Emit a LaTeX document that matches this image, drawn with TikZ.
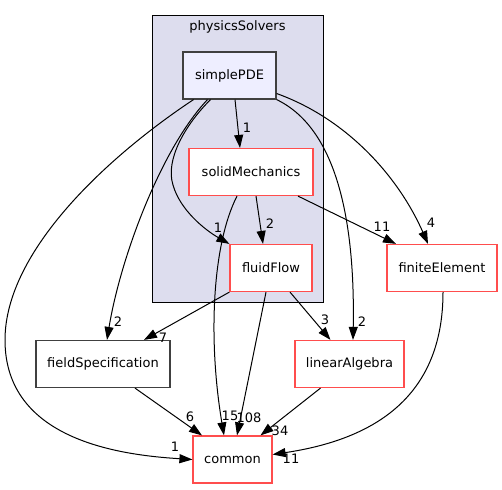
\documentclass[tikz,border=0pt]{standalone}
\usepackage{fontspec}
\setmainfont{DejaVu Sans}
\usetikzlibrary{arrows.meta}
\definecolor{dirred}{RGB}{255,77,77}
\definecolor{dirgray}{RGB}{64,64,64}
\definecolor{clusterfill}{RGB}{221,221,238}
\definecolor{pdefill}{RGB}{238,238,255}

\tikzset{
	dir/.style={draw=dirred, line width=1.2pt, fill=white, minimum height=47pt, inner sep=0pt, font=\fontsize{13}{15}\selectfont},
	dep/.style={-{Triangle[length=13pt,width=9pt]}, line width=1pt, black},
	lbl/.style={inner sep=0pt, font=\fontsize{13}{15}\selectfont}
}

\begin{document}
\begin{tikzpicture}[x=1pt,y=-1pt]
	\useasboundingbox (0,0) rectangle (502,489);
	
	\draw[fill=clusterfill, draw=black, line width=1pt] (152.5,16) rectangle (323,302.5);
	\node[font=\fontsize{13}{15}\selectfont] (physics) at (237.5,27) {physicsSolvers};
	
	\node[dir, draw=dirgray, fill=pdefill, minimum width=93pt] (simple) at (229.5,75.5) {simplePDE};
	\node[dir, minimum width=124pt] (solid) at (251,172) {solidMechanics};
	\node[dir, minimum width=82pt] (fluid) at (271,268) {fluidFlow};
	\node[dir, minimum width=110pt] (fem) at (442,268) {finiteElement};
	\node[dir, draw=dirgray, minimum width=134pt] (field) at (103,364) {fieldSpecification};
	\node[dir, minimum width=109pt] (linalg) at (349.5,364) {linearAlgebra};
	\node[dir, minimum width=79pt] (common) at (232.5,459.5) {common};
	
	
	\draw[dep] ([xshift=5.5pt]simple.south) -- ([xshift=-11pt]solid.north) node[lbl] at (247,128) {1};
	\draw[dep] ([xshift=-19pt]simple.south) .. controls (185,125) and (165,160) .. (173,185) .. controls (180,210) and (205,230) .. (fluid.north west) node[lbl] at (218,228) {1};
	\draw[dep] ([xshift=-22pt]simple.south) .. controls (160,150) and (120,260) .. ([xshift=4pt]field.north) node[lbl] at (118,322) {2};
	\draw[dep] ([xshift=-36pt]simple.south) .. controls (110,155) and (5,250) .. (5,340) .. controls (5,440) and (120,455) .. (common.west) node[lbl] at (175,447) {1};
	\draw[dep] (simple.south east) .. controls (340,130) and (355,230) .. ([xshift=3.5pt]linalg.north) node[lbl] at (362,322) {2};
	\draw[dep] ([yshift=-18pt]simple.east) .. controls (350,120) and (400,180) .. ([xshift=-14pt]fem.north) node[lbl] at (431,223) {4};
	
	\draw[dep] ([xshift=5pt]solid.south) -- ([xshift=-8pt]fluid.north) node[lbl] at (270,224) {2};
	\draw[dep] ([xshift=47pt]solid.south) -- ([xshift=-46pt]fem.north) node[lbl] at (382,227) {11};
	\draw[dep] ([xshift=-14pt]solid.south) .. controls (212,245) and (208,340) .. ([xshift=-8.5pt]common.north) node[lbl] at (230,416) {15};
	
	\draw[dep] (fluid.south west) -- ([xshift=41pt]field.north) node[lbl] at (163,338) {7};
	\draw[dep] ([xshift=-5pt]fluid.south) -- ([xshift=4.5pt]common.north) node[lbl] at (249,418) {108};
	\draw[dep] ([xshift=19pt]fluid.south) -- ([xshift=-19pt]linalg.north) node[lbl] at (325,320) {3};
	
	\draw[dep] ([xshift=32pt]field.south) -- ([xshift=-30.5pt]common.north) node[lbl] at (190,417) {6};
	\draw[dep] ([xshift=-29pt]linalg.south) -- ([xshift=28pt]common.north) node[lbl] at (280,431) {34};
	\draw[dep] ([xshift=1pt]fem.south) .. controls (443,400) and (370,440) .. ([yshift=5pt]common.east) node[lbl] at (291,459) {11};
\end{tikzpicture}
\end{document}
